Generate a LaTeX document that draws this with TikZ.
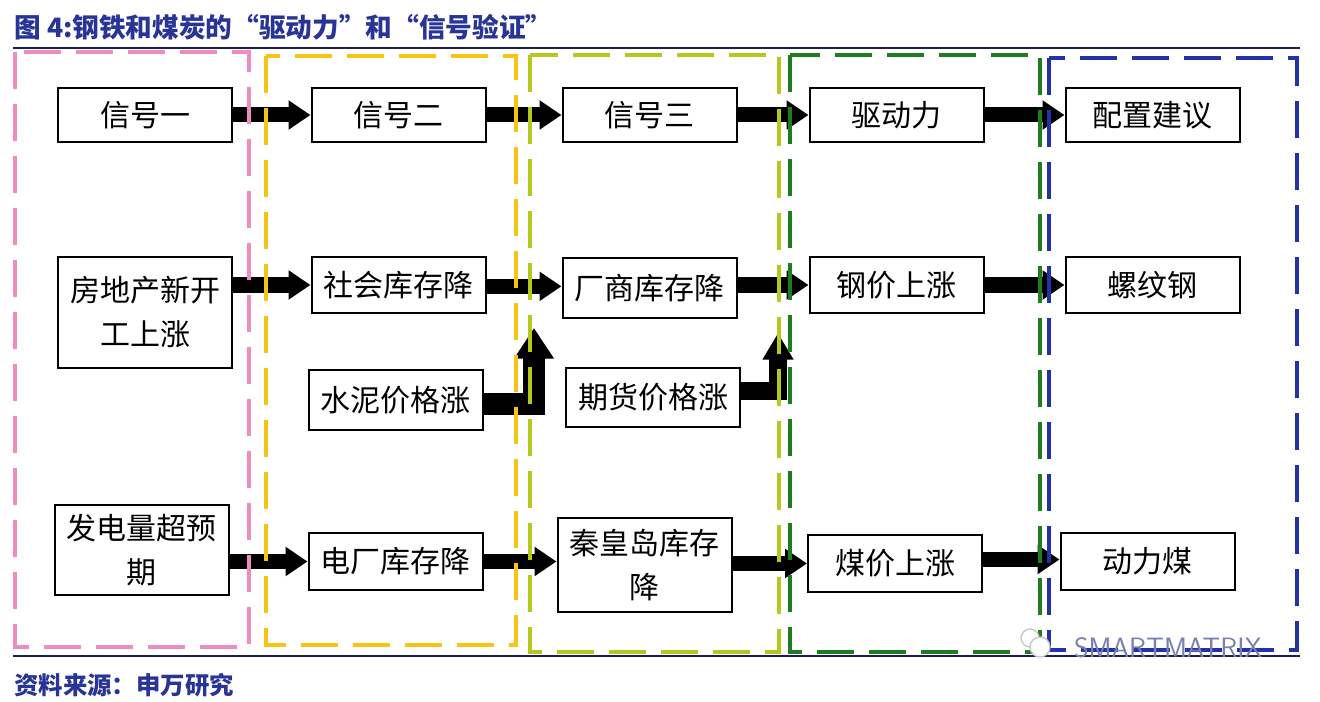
\documentclass[tikz,border=0pt]{standalone}
\usepackage{fontspec}
\newfontfamily\cjk{Noto Sans CJK SC}
\usetikzlibrary{arrows.meta}
\definecolor{pinkc}{RGB}{238,140,192}
\definecolor{yellowc}{RGB}{245,196,20}
\definecolor{limec}{RGB}{180,200,30}
\definecolor{greenc}{RGB}{30,125,30}
\definecolor{bluec}{RGB}{35,50,168}
\definecolor{titlec}{RGB}{40,52,150}
\definecolor{rulec}{RGB}{26,32,80}
\definecolor{wmc}{RGB}{120,128,175}
\tikzset{
  box/.style={draw=black, line width=1.5pt, fill=white, inner sep=0pt, align=center,
    minimum width=130.5pt, font=\cjk\fontsize{22.5}{33}\selectfont},
  bigarrow/.style={line width=11.25pt, -{Triangle[length=16.5pt,width=21pt]}},
  elbowA/.style={line width=16pt, line join=miter, -{Triangle[length=23pt,width=28.5pt]}},
  elbowB/.style={line width=13pt, line join=miter, -{Triangle[length=20pt,width=22pt]}},
  zone/.style={line width=3.2pt, dash pattern=on 28pt off 11pt},
  rule/.style={draw=rulec, line width=1.6pt},
  wmark/.style={inner sep=0pt, font=\sffamily\fontsize{21}{24}\selectfont}
}
\begin{document}
\begin{tikzpicture}[x=0.75pt,y=-0.75pt]
\useasboundingbox[fill=white] (0,0) rectangle (1320,702);

% title and rules
\node[anchor=west, inner sep=0pt, text=titlec, font=\cjk\bfseries\fontsize{20}{23}\selectfont] (title) at (14,27) {图 4:钢铁和煤炭的“驱动力”和“信号验证”};
\coordinate (rtl) at (13,48);
\coordinate (rtr) at (1300,48);
\draw[rule] (rtl) -- (rtr);
\coordinate (rbl) at (13,656);
\coordinate (rbr) at (1300,656);
\draw[rule] (rbl) -- (rbr);
\node[anchor=west, inner sep=0pt, text=titlec, font=\cjk\bfseries\fontsize{18.3}{21}\selectfont] (src) at (14,685) {资料来源：申万研究};

% row 1
\node[box, minimum height=40.5pt] (s1) at (145,115) {信号一};
\node[box, minimum height=40.5pt] (s2) at (398.5,115) {信号二};
\node[box, minimum height=40.5pt] (s3) at (649.5,115) {信号三};
\node[box, minimum height=40.5pt] (drv) at (896.5,115) {驱动力};
\node[box, minimum height=40.5pt] (cfg) at (1152.5,115) {配置建议};

% row 2
\node[box, minimum height=83pt] (fdc) at (145,312.5) {房地产新开\\工上涨};
\node[box, minimum height=42pt] (shk) at (398.5,285) {社会库存降};
\node[box, minimum height=45pt] (csk) at (649.5,288) {厂商库存降};
\node[box, minimum height=42pt] (gj) at (896.5,285) {钢价上涨};
\node[box, minimum height=42pt] (lwg) at (1152.5,285) {螺纹钢};

% row 3
\node[box, minimum height=45pt] (sn) at (395.5,400) {水泥价格涨};
\node[box, minimum height=44pt] (qh) at (653,397.5) {期货价格涨};

% row 4
\node[box, minimum height=67.5pt] (fdl) at (141.5,550) {发电量超预\\期};
\node[box, minimum height=43pt] (dck) at (395.5,561.5) {电厂库存降};
\node[box, minimum height=70.5pt] (qhd) at (644.5,565) {秦皇岛库存\\降};
\node[box, minimum height=43pt] (mj) at (895,563.5) {煤价上涨};
\node[box, minimum height=43pt] (dlm) at (1147.5,561.5) {动力煤};

% arrows
\draw[bigarrow] (s1.east) -- (s2.west);
\draw[bigarrow] (s2.east) -- (s3.west);
\draw[bigarrow] (s3.east) -- (drv.west);
\draw[bigarrow] (drv.east) -- (cfg.west);

\draw[bigarrow] (shk.west -| fdc.east) -- (shk.west);
\draw[bigarrow] ([yshift=-1pt]shk.east) -- ([yshift=-1pt]shk.east -| csk.west);
\draw[bigarrow] (gj.west -| csk.east) -- (gj.west);
\draw[bigarrow] (gj.east) -- (lwg.west);

\draw[bigarrow] (dck.west -| fdl.east) -- (dck.west);
\draw[bigarrow] (dck.east) -- (dck.east -| qhd.west);
\draw[bigarrow] (mj.west -| qhd.east) -- (mj.west);
\draw[bigarrow] ([yshift=3pt]mj.east) -- ([yshift=3pt]mj.east -| dlm.west);

\coordinate (tipA) at (534,328);
\coordinate (tipB) at (778,333);
\draw[elbowA] ([yshift=-3pt]sn.east) -| (tipA);
\draw[elbowB] ([yshift=5pt]qh.east) -| (tipB);

% dashed zones
\draw[zone, draw=pinkc] (15,52) rectangle (249,647);
\draw[zone, draw=yellowc] (266,56) rectangle (516,645);
\draw[zone, draw=limec] (530,55) rectangle (779,652);
\draw[zone, draw=greenc] (790,55) rectangle (1040,652);
\draw[zone, draw=bluec] (1049,58) rectangle (1297,650);

% watermark
\draw[gray!45, line width=1pt, fill=white] (1030,638) circle (9);
\draw[gray!45, line width=1pt, fill=white] (1040,647) circle (10);
\node[wmark, text=wmc] (wm) at (1168,648) {SMARTMATRIX};
\end{tikzpicture}
\end{document}
